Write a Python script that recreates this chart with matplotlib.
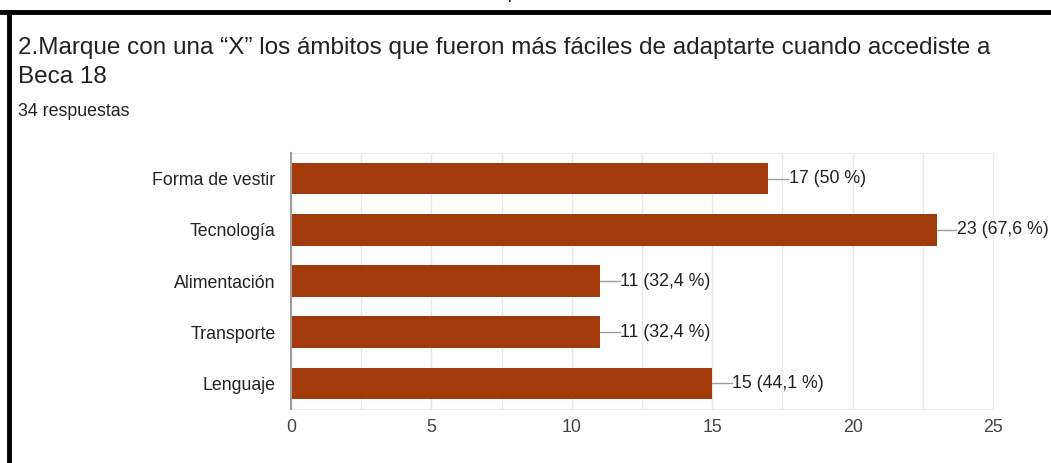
import numpy as np
import matplotlib.pyplot as plt

##########################################################################
# data
##########################################################################
categories = ['Forma de vestir', 'Tecnología', 'Alimentación', 'Transporte', 'Lenguaje']
counts = [17, 23, 11, 11, 15]
pct_labels = ['50 %', '67,6 %', '32,4 %', '32,4 %', '44,1 %']
grid_ticks = [0, 2.5, 5, 7.5, 10, 12.5, 15, 17.5, 20, 22.5, 25]
tick_labels = ['0', '', '5', '', '10', '', '15', '', '20', '', '25']

title = '2.Marque con una \u201cX\u201d los ámbitos que fueron más fáciles de adaptarte cuando accediste a\nBeca 18'
subtitle = '34 respuestas'

bar_color = '#A33A0B'
plt.rcParams['font.family'] = ['Liberation Sans', 'DejaVu Sans']
fs = 12.8

##########################################################################
# figure
##########################################################################
fig = plt.figure(figsize=(10.51, 4.63), dpi=100)
ax = fig.add_axes([291/1051, 1 - 409/463, 702/1051, 256/463])

y = np.arange(len(categories))
ax.barh(y, counts, height=0.62, color=bar_color, zorder=3)

# value labels with small leader line
for yi, c, p in zip(y, counts, pct_labels):
    ax.plot([c, c + 0.7], [yi, yi], color='#9e9e9e', lw=1, zorder=3, clip_on=False)
    ax.text(c + 0.72, yi, '%i (%s)' % (c, p), va='center', ha='left',
            fontsize=fs, color='#222222', clip_on=False)

ax.set_xlim(0, 25)
ax.set_ylim(len(categories) - 0.5, -0.5)
ax.set_yticks(y)
ax.set_yticklabels(categories, fontsize=fs, color='#222222')
ax.set_xticks(grid_ticks)
ax.set_xticklabels(tick_labels, fontsize=fs, color='#444444')
ax.grid(axis='x', color='#e8e8e8', lw=1, zorder=0)
ax.tick_params(length=0, pad=11)
ax.tick_params(axis='x', pad=7)
for s in ['top', 'right', 'bottom']:
    ax.spines[s].set_color('#ececec')
ax.spines['left'].set_color('#9e9e9e')
ax.spines['left'].set_linewidth(1.5)
ax.spines['left'].set_zorder(4)

# header texts
fig.text(18/1051, 1 - 37/463, title, fontsize=17.5, color='#202124',
         va='top', ha='left', linespacing=1.42)
fig.text(18/1051, 1 - 112/463, subtitle, fontsize=fs, color='#202124',
         va='center', ha='left')

# frame (screenshot border) and cut-off glyph at top
fig.add_artist(plt.Line2D([0, 1], [1 - 12/463] * 2, color='black', lw=3.5))
fig.add_artist(plt.Line2D([9/1051] * 2, [0, 1 - 12/463], color='black', lw=3.5))
fig.text(513/1051, 1 - 2/463, 'p', fontsize=12, color='black', ha='center', va='bottom')

fig.savefig('out.png', dpi=100)
